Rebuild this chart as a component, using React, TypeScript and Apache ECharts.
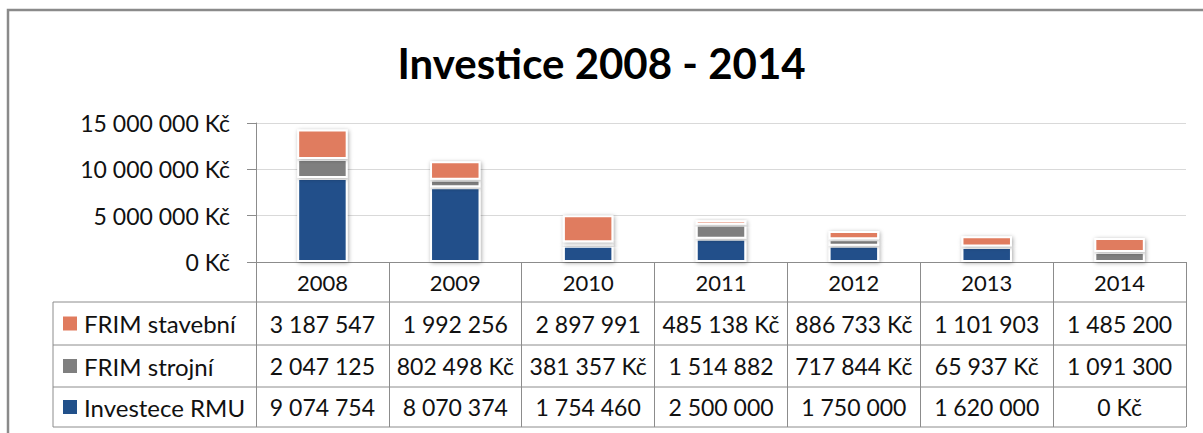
import React, { useEffect, useRef } from "react";
import * as echarts from "echarts";

const years = ["2008", "2009", "2010", "2011", "2012", "2013", "2014"];
const seriesNames = ["FRIM stavební", "FRIM strojní", "Investece RMU"];
const frimStavebni = [3187547, 1992256, 2897991, 485138, 886733, 1101903, 1485200];
const frimStrojni = [2047125, 802498, 381357, 1514882, 717844, 65937, 1091300];
const investeceRmu = [9074754, 8070374, 1754460, 2500000, 1750000, 1620000, 0];
const yTicks = { min: 0, max: 15000000, interval: 5000000 };
const colors = { stavebni: "#E07B5E", strojni: "#7F7F7F", rmu: "#21508A" };

const FONT = "Lato";

function fmt(v: number): string {
  return String(Math.round(v)).replace(/\B(?=(\d{3})+(?!\d))/g, " ");
}
function cellText(v: number): string {
  return v < 1000000 ? fmt(v) + " Kč" : fmt(v);
}

const W = 1203;
const H = 433;
const GRID = { left: 256, right: 17, top: 123, bottom: 171 };

export default function App() {
  const ref = useRef<HTMLDivElement>(null);
  useEffect(() => {
    if (!ref.current) return;
    const chart = echarts.init(ref.current, null, { renderer: "svg", width: W, height: H });
    const barStyle = (c: string) => ({
      color: c,
      borderColor: "#ffffff",
      borderWidth: 2,
      shadowBlur: 4,
      shadowColor: "rgba(0,0,0,0.35)",
      shadowOffsetX: 1,
      shadowOffsetY: 1,
    });
    chart.setOption({
      animation: false,
      backgroundColor: "#ffffff",
      textStyle: { fontFamily: FONT },
      title: {
        text: "Investice 2008 - 2014",
        left: "center",
        top: 37,
        textStyle: { fontFamily: FONT, fontWeight: "bold", fontSize: 42, color: "#000" },
      },
      grid: GRID,
      xAxis: {
        type: "category",
        data: years,
        axisLine: { lineStyle: { color: "#8C8C8C", width: 1 } },
        axisTick: { show: true, length: 165, lineStyle: { color: "#8C8C8C" } },
        axisLabel: { fontSize: 22, color: "#111", margin: 9, fontFamily: FONT },
      },
      yAxis: {
        type: "value",
        min: yTicks.min,
        max: yTicks.max,
        interval: yTicks.interval,
        axisLine: { show: true, lineStyle: { color: "#8C8C8C" } },
        axisTick: { show: true, length: 9, lineStyle: { color: "#8C8C8C" } },
        axisLabel: {
          fontSize: 23,
          color: "#111",
          margin: 26,
          fontFamily: FONT,
          formatter: (v: number) => fmt(v) + " Kč",
        },
        splitLine: { lineStyle: { color: "#D9D9D9" } },
      },
      series: [
        { name: seriesNames[2], type: "bar", stack: "a", barWidth: "38%", data: investeceRmu, itemStyle: barStyle(colors.rmu) },
        { name: seriesNames[1], type: "bar", stack: "a", barWidth: "38%", data: frimStrojni, itemStyle: barStyle(colors.strojni) },
        { name: seriesNames[0], type: "bar", stack: "a", barWidth: "38%", data: frimStavebni, itemStyle: barStyle(colors.stavebni) },
      ],
    });

    const rows = [
      { name: seriesNames[0], data: frimStavebni, color: colors.stavebni },
      { name: seriesNames[1], data: frimStrojni, color: colors.strojni },
      { name: seriesNames[2], data: investeceRmu, color: colors.rmu },
    ];
    const tableLeft = 53;
    const rowLines = [302, 345, 387, 427];
    const right = W - GRID.right;
    const elements: any[] = [];
    elements.push({
      type: "rect",
      shape: { x: 8, y: 10, width: 1230, height: 460 },
      style: { fill: "none", stroke: "#8A8A8A", lineWidth: 2.5 },
      silent: true,
    });
    rowLines.forEach((y) => {
      elements.push({
        type: "line",
        shape: { x1: tableLeft, y1: y, x2: right, y2: y },
        style: { stroke: "#8C8C8C", lineWidth: 1 },
      });
    });
    elements.push({
      type: "line",
      shape: { x1: tableLeft, y1: rowLines[0], x2: tableLeft, y2: rowLines[3] },
      style: { stroke: "#8C8C8C", lineWidth: 1 },
    });
    rows.forEach((r, ri) => {
      const cy = (rowLines[ri] + rowLines[ri + 1]) / 2;
      elements.push({
        type: "rect",
        shape: { x: 63, y: cy - 7, width: 14, height: 14 },
        style: { fill: r.color },
      });
      elements.push({
        type: "text",
        x: 84,
        y: cy,
        style: { text: r.name, fontFamily: FONT, fontSize: 24, fill: "#111", textVerticalAlign: "middle", textAlign: "left" },
      });
      r.data.forEach((v, ci) => {
        const cx = chart.convertToPixel({ xAxisIndex: 0 }, ci) as number;
        elements.push({
          type: "text",
          x: cx,
          y: cy,
          style: { text: cellText(v), fontFamily: FONT, fontSize: 23, fill: "#111", textVerticalAlign: "middle", textAlign: "center" },
        });
      });
    });
    chart.setOption({ graphic: elements });
    return () => chart.dispose();
  }, []);
  return <div ref={ref} style={{ position: "fixed", left: 0, top: 0, width: W, height: H }} />;
}
